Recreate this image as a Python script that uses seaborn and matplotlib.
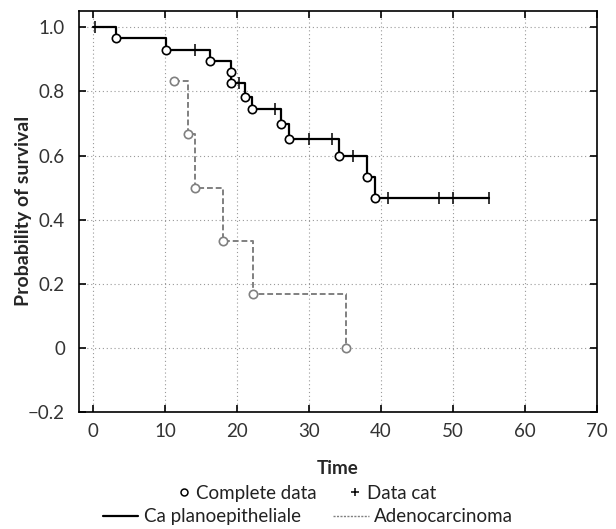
import numpy as np
import pandas as pd
import matplotlib
matplotlib.use("Agg")
import matplotlib.pyplot as plt
from matplotlib.lines import Line2D
import seaborn as sns

# Ca planoepitheliale: step points (time, survival after the step)
sq_time = [0, 3.2, 10.1, 16.2, 19.2, 19.2, 21.1, 22.1, 26.1, 27.2, 34.1, 38.1, 39.2, 55.0]
sq_surv = [1.0, 0.965, 0.929, 0.895, 0.860, 0.825, 0.784, 0.744, 0.699, 0.653, 0.597, 0.533, 0.469, 0.469]
sq_event = [False, True, True, True, True, True, True, True, True, True, True, True, True, False]
sq_cens_time = [0.3, 14.1, 20.2, 25.2, 30.0, 33.2, 36.1, 41.0, 48.1, 50.0, 55.0]
sq_cens_surv = [1.0, 0.929, 0.825, 0.744, 0.653, 0.653, 0.597, 0.469, 0.469, 0.469, 0.469]

# Adenocarcinoma
ad_time = [11.2, 13.2, 14.1, 18.1, 22.2, 35.1]
ad_surv = [0.833, 0.667, 0.500, 0.333, 0.167, 0.0]

x_ticks = [0, 10, 20, 30, 40, 50, 60, 70]
y_ticks = [-0.2, 0, 0.2, 0.4, 0.6, 0.8, 1.0]
y_ticklabels = ["\u22120.2", "0", "0.2", "0.4", "0.6", "0.8", "1.0"]

sns.set_theme(style="ticks")
plt.rcParams['font.family'] = ['Lato', 'DejaVu Sans']

fig = plt.figure(figsize=(6.16, 5.29), dpi=100)
ax = fig.add_axes([0.128, 0.221, 0.841, 0.759])

gray = "#808080"

sq = pd.DataFrame({"time": sq_time, "surv": sq_surv, "event": sq_event})
ad = pd.DataFrame({"time": ad_time, "surv": ad_surv})

sns.lineplot(data=sq, x="time", y="surv", drawstyle="steps-post", estimator=None,
             sort=False, color="black", lw=1.6, ax=ax, zorder=3)
sns.lineplot(data=ad, x="time", y="surv", drawstyle="steps-post", estimator=None,
             sort=False, color=gray, lw=1.4, ax=ax, zorder=3)
ax.lines[-1].set_dashes((3, 1.5))

ev = sq[sq["event"]]
ax.plot(ev["time"], ev["surv"], "o", ms=6, mfc="white", mec="black", mew=1.2, zorder=4)
ax.plot(ad["time"], ad["surv"], "o", ms=6, mfc="white", mec=gray, mew=1.2, zorder=4)
ax.plot(sq_cens_time, sq_cens_surv, "|", ms=8, color="black", mew=1.1, zorder=4)

ax.set_xlim(-2, 70)
ax.set_ylim(-0.2, 1.052)
ax.set_xticks(x_ticks)
ax.set_yticks(y_ticks)
ax.set_yticklabels(y_ticklabels)
ax.grid(True, color="#999999", linestyle=(0, (1, 2.5)), lw=0.8)
ax.tick_params(direction="in", top=True, right=True, length=5, width=1.2,
               labelsize=13.5, pad=10, colors="black", labelcolor="#333333")
ax.tick_params(axis="x", pad=8)
for s in ax.spines.values():
    s.set_linewidth(1.2)
    s.set_color("black")

ax.set_xlabel("Time", fontsize=13.5, fontweight="bold", labelpad=14)
ax.set_ylabel("Probability of survival", fontsize=14, fontweight="bold")
ax.yaxis.set_label_coords(-0.09, 0.5)

h1 = [Line2D([], [], ls="none", marker="o", ms=5, mfc="white", mec="black", mew=1.1),
      Line2D([], [], ls="none", marker="+", ms=6, color="black", mew=1.1)]
fig.legend(h1, ["Complete data", "Data cat"], loc="center", bbox_to_anchor=(0.5, 0.068),
           ncol=2, frameon=False, fontsize=13.5, labelcolor="#222222",
           handlelength=0.5, handletextpad=0.4, columnspacing=1.8, borderpad=0)
h2 = [Line2D([], [], color="black", lw=1.6),
      Line2D([], [], color=gray, lw=1.0, dashes=(1.5, 1))]
fig.legend(h2, ["Ca planoepitheliale", "Adenocarcinoma"], loc="center", bbox_to_anchor=(0.5, 0.023),
           ncol=2, frameon=False, fontsize=13.5, labelcolor="#222222",
           handlelength=1.9, handletextpad=0.3, columnspacing=1.7, borderpad=0)

fig.savefig("out.png", dpi=100)
